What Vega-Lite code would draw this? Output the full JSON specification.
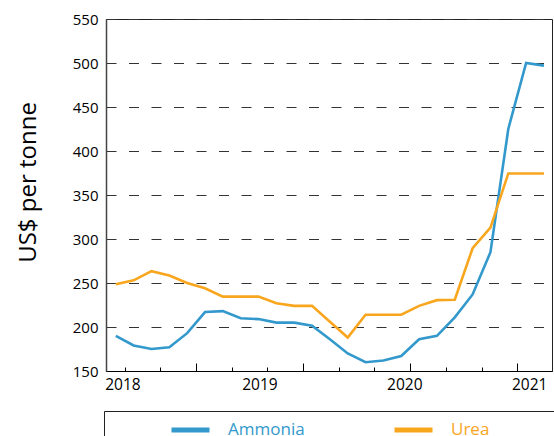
{
  "$schema": "https://vega.github.io/schema/vega-lite/v6.json",
  "width": 446,
  "height": 352,
  "autosize": "none",
  "padding": {"left": 106, "top": 19, "right": 2, "bottom": 65},
  "background": "white",
  "config": {"view": {"stroke": "#222", "strokeWidth": 1}, "font": "Open Sans"},
  "datasets": {
    "prices": [
      {"product": "Ammonia", "period": 0, "price": 190},
      {"product": "Ammonia", "period": 1, "price": 179},
      {"product": "Ammonia", "period": 2, "price": 175},
      {"product": "Ammonia", "period": 3, "price": 177},
      {"product": "Ammonia", "period": 4, "price": 193},
      {"product": "Ammonia", "period": 5, "price": 217},
      {"product": "Ammonia", "period": 6, "price": 218},
      {"product": "Ammonia", "period": 7, "price": 210},
      {"product": "Ammonia", "period": 8, "price": 209},
      {"product": "Ammonia", "period": 9, "price": 205},
      {"product": "Ammonia", "period": 10, "price": 205},
      {"product": "Ammonia", "period": 11, "price": 201.5},
      {"product": "Ammonia", "period": 12, "price": 186},
      {"product": "Ammonia", "period": 13, "price": 170},
      {"product": "Ammonia", "period": 14, "price": 160},
      {"product": "Ammonia", "period": 15, "price": 162},
      {"product": "Ammonia", "period": 16, "price": 167},
      {"product": "Ammonia", "period": 17, "price": 186},
      {"product": "Ammonia", "period": 18, "price": 190},
      {"product": "Ammonia", "period": 19, "price": 211},
      {"product": "Ammonia", "period": 20, "price": 237},
      {"product": "Ammonia", "period": 21, "price": 285},
      {"product": "Ammonia", "period": 22, "price": 425},
      {"product": "Ammonia", "period": 23, "price": 500},
      {"product": "Ammonia", "period": 24, "price": 497},
      {"product": "Urea", "period": 0, "price": 248.5},
      {"product": "Urea", "period": 1, "price": 253},
      {"product": "Urea", "period": 2, "price": 263.5},
      {"product": "Urea", "period": 3, "price": 258.5},
      {"product": "Urea", "period": 4, "price": 250},
      {"product": "Urea", "period": 5, "price": 244},
      {"product": "Urea", "period": 6, "price": 234.5},
      {"product": "Urea", "period": 7, "price": 234.5},
      {"product": "Urea", "period": 8, "price": 234.5},
      {"product": "Urea", "period": 9, "price": 227},
      {"product": "Urea", "period": 10, "price": 224},
      {"product": "Urea", "period": 11, "price": 224},
      {"product": "Urea", "period": 12, "price": 206},
      {"product": "Urea", "period": 13, "price": 188},
      {"product": "Urea", "period": 14, "price": 214},
      {"product": "Urea", "period": 15, "price": 214},
      {"product": "Urea", "period": 16, "price": 214},
      {"product": "Urea", "period": 17, "price": 224},
      {"product": "Urea", "period": 18, "price": 230.5},
      {"product": "Urea", "period": 19, "price": 231},
      {"product": "Urea", "period": 20, "price": 289.5},
      {"product": "Urea", "period": 21, "price": 313},
      {"product": "Urea", "period": 22, "price": 374.5},
      {"product": "Urea", "period": 23, "price": 374.5},
      {"product": "Urea", "period": 24, "price": 374.5}
    ],
    "years": [
      {"year": "2018", "pos": 0.4},
      {"year": "2019", "pos": 8.08},
      {"year": "2020", "pos": 16.2},
      {"year": "2021", "pos": 23.2}
    ]
  },
  "layer": [
    {
      "data": {"name": "prices"},
      "mark": {"type": "line", "strokeWidth": 2.6},
      "encoding": {
        "x": {
          "field": "period",
          "type": "quantitative",
          "scale": {"domain": [-0.55, 24.45], "nice": false, "zero": false},
          "axis": {
            "values": [0.5, 1.5, 2.5, 3.5, 4.5, 5.5, 6.5, 7.5, 8.5, 9.5, 10.5, 11.5, 12.5, 13.5, 14.5, 15.5, 16.5, 17.5, 18.5, 19.5, 20.5, 21.5, 22.5, 23.5],
            "labels": false,
            "grid": false,
            "title": null,
            "domainColor": "black",
            "domainWidth": 1,
            "tickColor": "black",
            "tickSize": {
              "condition": [
                {"test": "datum.value == 7.5 || datum.value == 19.5", "value": -12},
                {"test": "datum.value % 3 == 1.5", "value": -8}
              ],
              "value": -4
            },
            "tickWidth": {
              "condition": {"test": "datum.value == 7.5 || datum.value == 19.5", "value": 1.8},
              "value": 1
            }
          }
        },
        "y": {
          "field": "price",
          "type": "quantitative",
          "scale": {"domain": [150, 550], "nice": false, "zero": false},
          "axis": {
            "values": [150, 200, 250, 300, 350, 400, 450, 500, 550],
            "grid": true,
            "gridDash": [10, 12.5],
            "gridColor": "#333",
            "gridWidth": 1,
            "ticks": false,
            "domainColor": "#444",
            "domainWidth": 1.5,
            "labelFontSize": 15,
            "labelColor": "black",
            "labelPadding": 8,
            "title": "US$ per tonne",
            "titleFontSize": 24,
            "titleFontWeight": "normal",
            "titleColor": "black",
            "titleX": -71,
            "titleY": 163,
            "titleAngle": -90,
            "titleBaseline": "alphabetic",
            "titleAlign": "center"
          }
        },
        "color": {
          "field": "product",
          "type": "nominal",
          "scale": {"domain": ["Ammonia", "Urea"], "range": ["#3399cc", "#f9a61f"]},
          "legend": {
            "orient": "none",
            "legendX": -2,
            "legendY": 392,
            "direction": "horizontal",
            "columns": 2,
            "title": "\u00a0",
            "titleOrient": "right",
            "titlePadding": 61,
            "titleFontSize": 17,
            "strokeColor": "#222",
            "padding": 7,
            "symbolType": "M-2,0H2",
            "symbolSize": 361,
            "symbolStrokeWidth": 5,
            "symbolOffset": 67.5,
            "labelOffset": 25.5,
            "labelFontSize": 17,
            "labelColor": {"expr": "datum.label == 'Ammonia' ? '#3399cc' : '#f9a61f'"},
            "columnPadding": 29
          }
        }
      }
    },
    {
      "data": {"name": "years"},
      "mark": {"type": "text", "fontSize": 15.5, "dy": 19, "baseline": "alphabetic", "align": "center", "color": "black"},
      "encoding": {
        "x": {"field": "pos", "type": "quantitative"},
        "y": {"datum": 150},
        "text": {"field": "year", "type": "nominal"}
      }
    }
  ]
}
